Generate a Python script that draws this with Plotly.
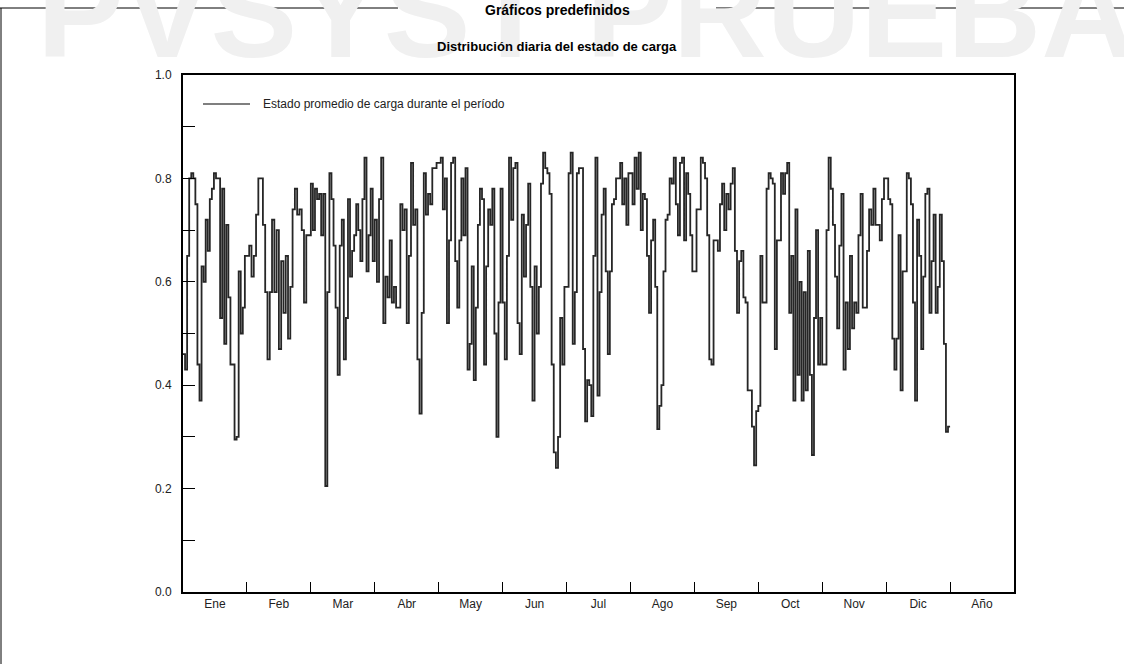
import plotly.graph_objects as go

# Daily average state of charge, one list per month
ene = [0.46, 0.43, 0.65, 0.80, 0.81, 0.80, 0.75, 0.44, 0.37, 0.63, 0.60, 0.72, 0.66, 0.76, 0.78, 0.81,
       0.80, 0.80, 0.53, 0.78, 0.48, 0.71, 0.57, 0.44, 0.44, 0.295, 0.30, 0.62, 0.50, 0.55, 0.65]
feb = [0.65, 0.67, 0.61, 0.65, 0.73, 0.80, 0.80, 0.71, 0.58, 0.45, 0.58, 0.72, 0.58, 0.70, 0.47, 0.64,
       0.54, 0.65, 0.49, 0.59, 0.74, 0.78, 0.73, 0.74, 0.70, 0.56, 0.69, 0.69]
mar = [0.79, 0.70, 0.78, 0.76, 0.77, 0.69, 0.77, 0.205, 0.58, 0.81, 0.76, 0.67, 0.55, 0.42, 0.67, 0.72,
       0.45, 0.53, 0.76, 0.61, 0.66, 0.69, 0.75, 0.70, 0.64, 0.76, 0.84, 0.62, 0.69, 0.78, 0.64]
abr = [0.72, 0.60, 0.76, 0.84, 0.52, 0.61, 0.57, 0.68, 0.56, 0.59, 0.55, 0.55, 0.75, 0.70, 0.74, 0.52,
       0.65, 0.83, 0.71, 0.74, 0.45, 0.345, 0.54, 0.81, 0.73, 0.77, 0.75, 0.82, 0.82, 0.83]
may = [0.83, 0.84, 0.74, 0.80, 0.52, 0.68, 0.83, 0.84, 0.64, 0.55, 0.68, 0.80, 0.69, 0.82, 0.43, 0.48,
       0.63, 0.41, 0.55, 0.71, 0.78, 0.76, 0.44, 0.63, 0.74, 0.71, 0.78, 0.50, 0.30, 0.56, 0.78]
jun = [0.56, 0.45, 0.65, 0.84, 0.72, 0.82, 0.83, 0.52, 0.46, 0.73, 0.61, 0.71, 0.79, 0.59, 0.37, 0.63,
       0.50, 0.59, 0.79, 0.85, 0.82, 0.81, 0.77, 0.44, 0.27, 0.24, 0.30, 0.53, 0.44, 0.59]
jul = [0.59, 0.81, 0.85, 0.48, 0.58, 0.81, 0.82, 0.82, 0.47, 0.33, 0.41, 0.40, 0.34, 0.65, 0.84, 0.38,
       0.58, 0.73, 0.78, 0.62, 0.46, 0.62, 0.75, 0.76, 0.80, 0.80, 0.83, 0.75, 0.80, 0.71, 0.81]
ago = [0.81, 0.75, 0.84, 0.78, 0.85, 0.70, 0.77, 0.76, 0.65, 0.54, 0.68, 0.72, 0.59, 0.315, 0.36, 0.40,
       0.62, 0.72, 0.73, 0.80, 0.79, 0.84, 0.75, 0.69, 0.83, 0.84, 0.68, 0.81, 0.77, 0.69, 0.62]
sep = [0.62, 0.74, 0.74, 0.84, 0.83, 0.80, 0.69, 0.45, 0.44, 0.68, 0.68, 0.66, 0.75, 0.79, 0.70, 0.77,
       0.74, 0.79, 0.82, 0.66, 0.54, 0.64, 0.66, 0.57, 0.56, 0.39, 0.39, 0.32, 0.245, 0.35]
oct_ = [0.36, 0.65, 0.56, 0.56, 0.78, 0.81, 0.80, 0.79, 0.47, 0.68, 0.68, 0.81, 0.77, 0.81, 0.83, 0.54,
        0.65, 0.37, 0.74, 0.42, 0.60, 0.37, 0.58, 0.39, 0.66, 0.42, 0.265, 0.53, 0.70, 0.44, 0.53]
nov = [0.44, 0.44, 0.70, 0.84, 0.78, 0.71, 0.61, 0.51, 0.67, 0.77, 0.43, 0.56, 0.47, 0.65, 0.51, 0.56,
       0.54, 0.69, 0.77, 0.55, 0.55, 0.66, 0.74, 0.71, 0.78, 0.71, 0.71, 0.68, 0.76, 0.80]
dic = [0.80, 0.76, 0.75, 0.49, 0.43, 0.49, 0.69, 0.39, 0.62, 0.62, 0.81, 0.80, 0.75, 0.56, 0.37, 0.72,
       0.65, 0.47, 0.61, 0.77, 0.78, 0.54, 0.64, 0.73, 0.54, 0.59, 0.73, 0.64, 0.48, 0.31, 0.32]

months = [ene, feb, mar, abr, may, jun, jul, ago, sep, oct_, nov, dic]
month_labels = ["Ene", "Feb", "Mar", "Abr", "May", "Jun", "Jul", "Ago", "Sep", "Oct", "Nov", "Dic", "Año"]
y_ticks = [0.0, 0.2, 0.4, 0.6, 0.8, 1.0]
series_name = "Estado promedio de carga durante el período"

# Each month occupies one unit on the x axis; days are spread evenly inside it
xs, ys = [], []
for m, vals in enumerate(months):
    n = len(vals)
    for d, v in enumerate(vals):
        xs.append(m + d / n)
        ys.append(v)
xs.append(12)
ys.append(ys[-1])

FONT = "Liberation Sans, Arial, sans-serif"
LINE = dict(color="#262626", width=1.8)

fig = go.Figure()
fig.add_trace(go.Scatter(
    x=xs, y=ys, mode="lines", line=dict(**LINE, shape="hv"),
    name=series_name, showlegend=False,
))

W, H = 1124, 664
L, R, T, B = 183, 110, 75, 72
pw, ph = W - L - R, H - T - B


def px(x):
    return (x - L) / pw


def py(y):
    return (H - B - y) / ph


fig.update_layout(
    width=W, height=H,
    margin=dict(l=L, r=R, t=T, b=B),
    paper_bgcolor="white", plot_bgcolor="white",
    font=dict(family=FONT, size=12, color="#222"),
    xaxis=dict(
        range=[0, 13], showgrid=False, zeroline=False,
        showline=True, linecolor="black", linewidth=2, mirror=True,
        tickmode="array", tickvals=[i + 0.5 for i in range(13)], ticktext=month_labels,
        ticks="", tickfont=dict(size=12, color="#222"),
        minor=dict(tickmode="array", tickvals=list(range(1, 13)), ticks="inside",
                   ticklen=10, tickwidth=1, tickcolor="black", showgrid=False),
    ),
    yaxis=dict(
        range=[0, 1], showgrid=False, zeroline=False,
        showline=True, linecolor="black", linewidth=2, mirror=True,
        tickmode="array", tickvals=y_ticks, ticktext=[f"{v:.1f}" for v in y_ticks],
        ticks="inside", ticklen=12, tickwidth=1, tickcolor="black",
        tickfont=dict(size=12, color="#222"), ticklabelstandoff=7,
        minor=dict(dtick=0.1, ticks="inside", ticklen=12, tickwidth=1, tickcolor="black", showgrid=False),
    ),
)

# Watermark behind everything
fig.add_annotation(
    text="<b>PVSYST PRUEBA</b>", xref="paper", yref="paper", x=px(586), y=py(87),
    xanchor="center", yanchor="bottom", showarrow=False,
    font=dict(family=FONT, size=130, color="#f0f0f0"),
)

# Page titles
fig.add_annotation(
    text="<b>Gráficos predefinidos</b>", xref="paper", yref="paper", x=px(557), y=py(10),
    xanchor="center", yanchor="middle", showarrow=False, font=dict(family=FONT, size=14, color="black"),
)
fig.add_annotation(
    text="<b>Distribución diaria del estado de carga</b>", xref="paper", yref="paper", x=px(557), y=py(47),
    xanchor="center", yanchor="middle", showarrow=False, font=dict(family=FONT, size=13, color="black"),
)

# Legend entry: line sample and label
fig.add_shape(type="line", xref="paper", yref="paper", x0=px(203), x1=px(250), y0=py(104), y1=py(104),
              line=dict(color="black", width=1.2))
fig.add_annotation(
    text=series_name, xref="paper", yref="paper", x=px(261), y=py(104),
    xanchor="left", yanchor="middle", showarrow=False, font=dict(family=FONT, size=12, color="#222"),
)

# Page frame, interrupted around the heading
frame = dict(type="line", xref="paper", yref="paper", line=dict(color="black", width=1))
fig.add_shape(**frame, x0=px(0), x1=px(398), y0=py(8), y1=py(8))
fig.add_shape(**frame, x0=px(716), x1=px(1124), y0=py(8), y1=py(8))
fig.add_shape(**frame, x0=px(1), x1=px(1), y0=py(8), y1=py(664))

fig.write_html("out.html")
